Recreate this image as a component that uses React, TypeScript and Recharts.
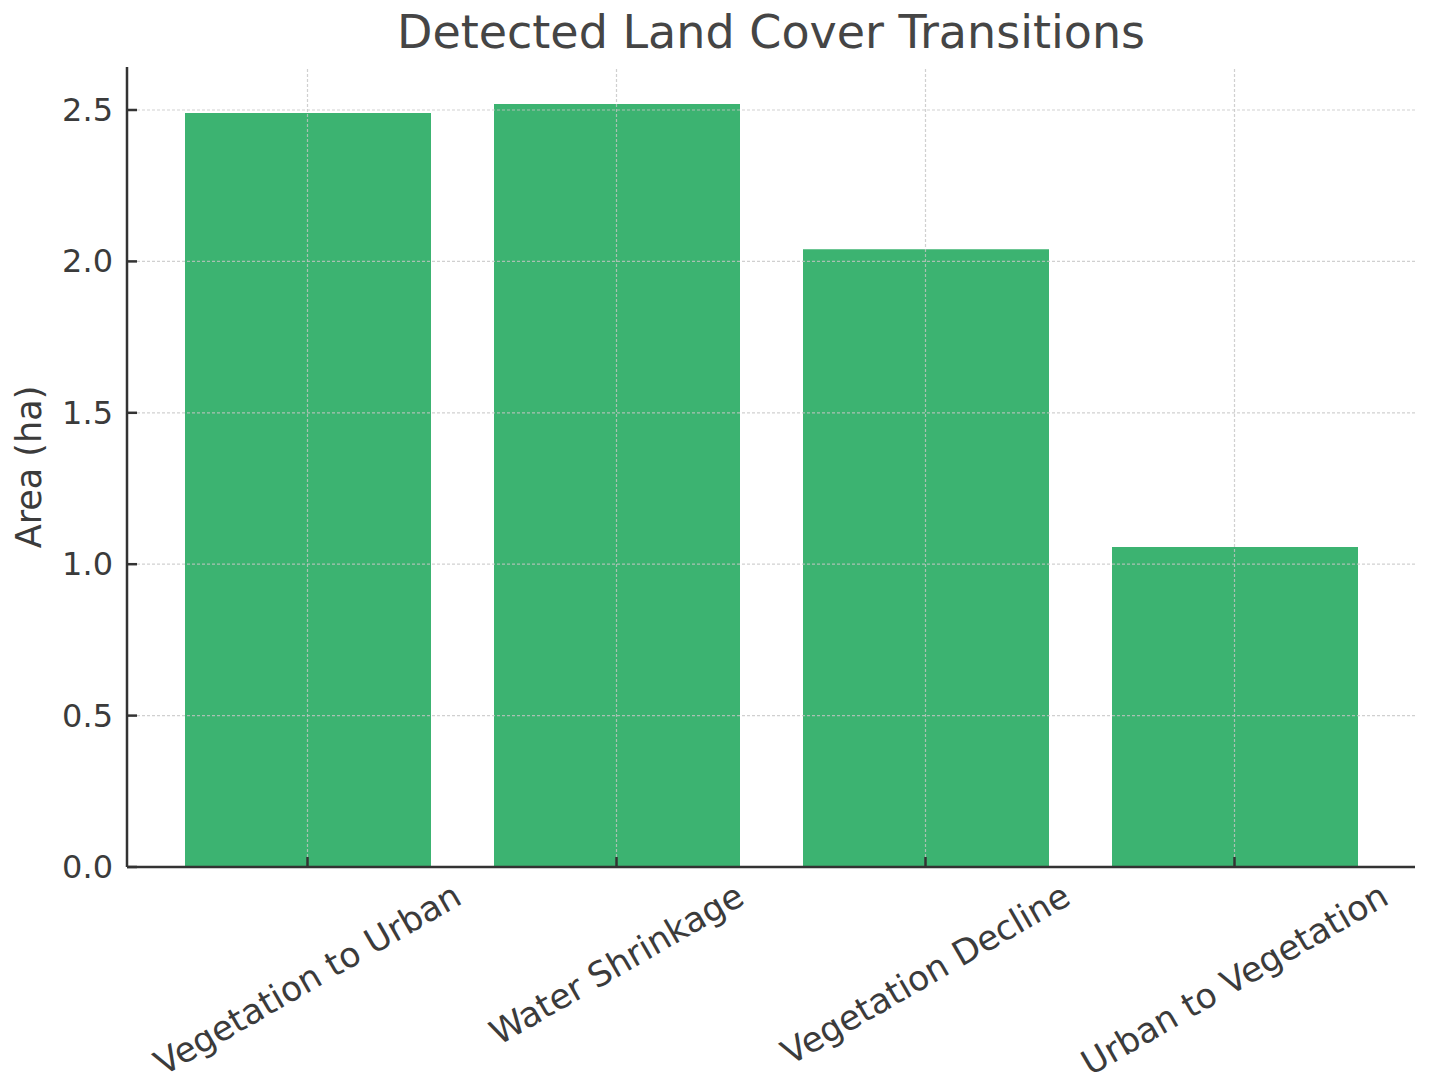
import React from "react";
import { BarChart, Bar, XAxis, YAxis, ReferenceLine } from "recharts";

const categories = [
  "Vegetation to Urban",
  "Water Shrinkage",
  "Vegetation Decline",
  "Urban to Vegetation",
];
const areaValues = [2.49, 2.52, 2.04, 1.057];
const yTicks = [0, 0.5, 1.0, 1.5, 2.0, 2.5];

const data = categories.map((name, i) => ({ name, area: areaValues[i] }));

const FONT = "DejaVu Sans";
const TEXT = "#3b3b3b";
const AXIS = "#333333";
const Y_TICK_FONT = 32;
const X_TICK_FONT = 34.5;
const GRID = { stroke: "#c4c4c4", strokeOpacity: 0.8, strokeWidth: 1.2, strokeDasharray: "3 2" };

let canvasCtx: CanvasRenderingContext2D | null = null;
function textWidth(s: string, size: number) {
  if (!canvasCtx) canvasCtx = document.createElement("canvas").getContext("2d");
  if (!canvasCtx) return s.length * size * 0.55;
  canvasCtx.font = `${size}px "${FONT}"`;
  return canvasCtx.measureText(s).width;
}

// y ticks: label left of axis, tick mark pointing inward
function YTick(props: any) {
  const { x, y, payload } = props;
  const gap = 14;
  return (
    <g>
      <line x1={x + gap} x2={x + gap + 10} y1={y} y2={y} stroke={AXIS} strokeWidth={2.5} />
      <text
        x={x}
        y={y}
        textAnchor="end"
        dominantBaseline="central"
        fontFamily={FONT}
        fontSize={Y_TICK_FONT}
        fill={TEXT}
      >
        {Number(payload.value).toFixed(1)}
      </text>
    </g>
  );
}

// x ticks: rotated 30deg, bounding box centred under the tick
function XTick(props: any) {
  const { x, y, payload } = props;
  const label = String(payload.value);
  const w = textWidth(label, X_TICK_FONT);
  const h = X_TICK_FONT * 1.17;
  const half = (w * 0.5 + h * 0.866) / 2;
  const cy = y + 8 + half;
  return (
    <g>
      <line x1={x} x2={x} y1={y} y2={y - 10} stroke={AXIS} strokeWidth={2.5} />
      <text
        x={x}
        y={cy}
        textAnchor="middle"
        dominantBaseline="central"
        transform={`rotate(-30 ${x} ${cy})`}
        fontFamily={FONT}
        fontSize={X_TICK_FONT}
        fill={TEXT}
      >
        {label}
      </text>
    </g>
  );
}

function YLabel(props: any) {
  const { viewBox } = props;
  const cx = 29;
  const cy = viewBox.y + viewBox.height / 2;
  return (
    <text
      x={cx}
      y={cy}
      transform={`rotate(-90 ${cx} ${cy})`}
      textAnchor="middle"
      dominantBaseline="central"
      fontFamily={FONT}
      fontSize={35}
      fill={TEXT}
    >
      Area (ha)
    </text>
  );
}

export default function App() {
  return (
    <div
      style={{
        position: "absolute",
        left: 0,
        top: 0,
        width: 1429,
        height: 1086,
        background: "#fff",
      }}
    >
      <div
        style={{
          position: "absolute",
          left: 127,
          width: 1288,
          top: 10,
          textAlign: "center",
          fontFamily: FONT,
          fontSize: 46,
          lineHeight: "45px",
          color: "#454545",
        }}
      >
        Detected Land Cover Transitions
      </div>
      <BarChart
        width={1429}
        height={1086}
        data={data}
        margin={{ top: 67, right: 14, bottom: 69, left: 27 }}
      >
        <XAxis
          dataKey="name"
          height={150}
          padding={{ left: 26, right: 26 }}
          tickSize={0}
          tickMargin={0}
          tickLine={false}
          axisLine={{ stroke: AXIS, strokeWidth: 2.5 }}
          tick={<XTick />}
          interval={0}
        />
        <YAxis
          type="number"
          width={100}
          domain={[0, 2.642]}
          ticks={yTicks}
          allowDataOverflow
          tickSize={0}
          tickMargin={14}
          tickLine={false}
          axisLine={{ stroke: AXIS, strokeWidth: 2.5 }}
          tick={<YTick />}
          label={<YLabel />}
        />
        <Bar dataKey="area" fill="#3CB371" barSize={246} isAnimationActive={false} />
        {/* dashed grid over the bars, at the tick positions only */}
        {yTicks.slice(1).map((t) => (
          <ReferenceLine key={`gy-${t}`} y={t} {...GRID} />
        ))}
        {categories.map((c) => (
          <ReferenceLine key={`gx-${c}`} x={c} {...GRID} />
        ))}
      </BarChart>
    </div>
  );
}
